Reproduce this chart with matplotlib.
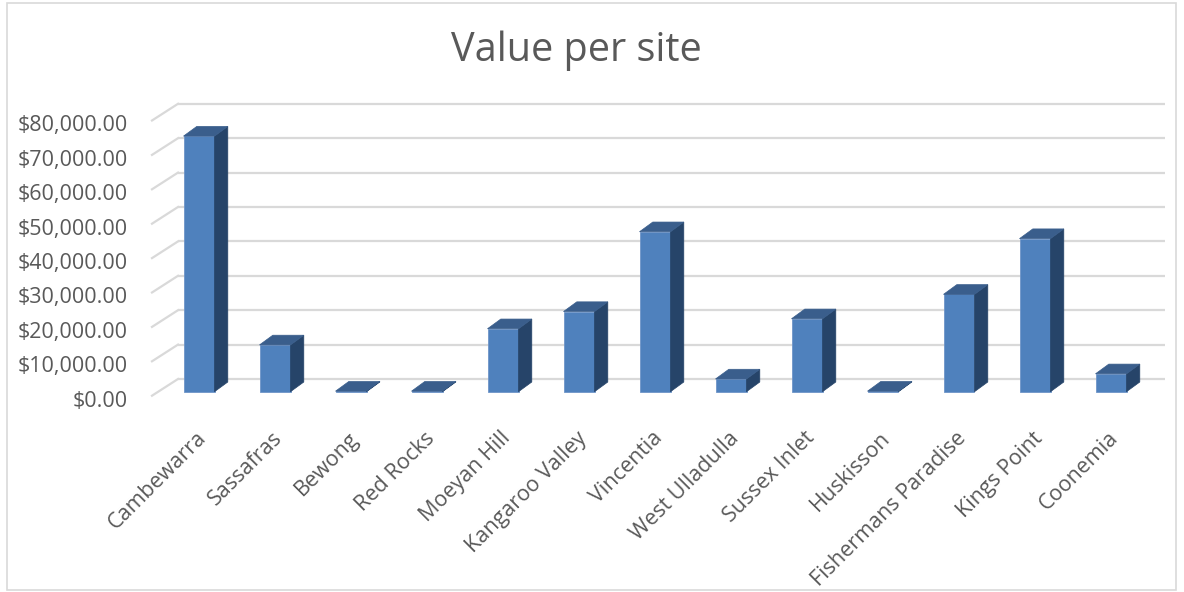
import matplotlib.pyplot as plt
from matplotlib.patches import Polygon, Rectangle
from matplotlib.transforms import ScaledTranslation

# data
sites = ['Cambewarra', 'Sassafras', 'Bewong', 'Red Rocks', 'Moeyan Hill',
         'Kangaroo Valley', 'Vincentia', 'West Ulladulla', 'Sussex Inlet',
         'Huskisson', 'Fishermans Paradise', 'Kings Point', 'Coonemia']
values = [74300, 13600, 150, 150, 18300, 23300, 46500, 3700, 21200, 150,
          28300, 44500, 5200]
tick_values = [0, 10000, 20000, 30000, 40000, 50000, 60000, 70000, 80000]
title = 'Value per site'

# pixel layout of the fake 3D box (figure is 1184x592 at dpi 100)
W, H, DPI = 1184, 592, 100
x0_px, step_px = 199.0, 76.0        # centre of first bar, spacing between bars
y0_px, unit_px = 391.7, 34.4 / 10000  # bar base, pixels per dollar

def px_x(p):
    return (p - x0_px) / step_px

def px_dy(p):
    return p / unit_px

FRONT = '#4f81bd'
TOP = '#3a5e8c'
SIDE = '#264469'
GRID = '#d9d9d9'
TEXT = '#595959'

plt.rcParams['font.family'] = ['Open Sans', 'DejaVu Sans']

fig = plt.figure(figsize=(W / DPI, H / DPI), dpi=DPI)
ax = fig.add_axes([0, 0, 1, 1])
ax.set_xlim(px_x(0), px_x(W))
ax.set_ylim(px_dy(y0_px - H), px_dy(y0_px))
ax.axis('off')

bar_w = 31 / step_px
depth_dx, depth_dy = 13.3 / step_px, px_dy(9.7)
wall_dy = px_dy(12.7)
wall_left, wall_right = px_x(178), px_x(1165)
front_left, front_dy = px_x(152), px_dy(-4)

# back wall gridlines plus the slanted lines on the left
for v in tick_values:
    ax.plot([wall_left, wall_right], [v + wall_dy, v + wall_dy],
            color=GRID, lw=1.6, zorder=1, solid_capstyle='butt')
    ax.plot([front_left, wall_left], [v + front_dy, v + wall_dy],
            color=GRID, lw=1.6, zorder=1)

# y labels at the front edge
lab_off = ScaledTranslation(-24 / DPI, -5.5 / DPI, fig.dpi_scale_trans)
for v in tick_values:
    ax.text(front_left, v + front_dy, f'${v:,.2f}', ha='right', va='center',
            fontsize=15.5, color=TEXT, transform=ax.transData + lab_off)

# bars: front face with ax.bar, top and side faces as polygons
xs = list(range(len(sites)))
ax.bar(xs, values, width=bar_w, color=FRONT, edgecolor='#6f95c8',
       linewidth=0.6, zorder=3)
for x, v in zip(xs, values):
    l, r = x - bar_w / 2, x + bar_w / 2
    top = Polygon([(l, v), (r, v), (r + depth_dx, v + depth_dy),
                   (l + depth_dx, v + depth_dy)], closed=True,
                  facecolor=TOP, edgecolor=TOP, lw=0.5, zorder=3)
    side = Polygon([(r, 0), (r + depth_dx, depth_dy),
                    (r + depth_dx, v + depth_dy), (r, v)], closed=True,
                   facecolor=SIDE, edgecolor=SIDE, lw=0.5, zorder=3)
    ax.add_patch(side)
    ax.add_patch(top)

# category labels, rotated
cat_off = ScaledTranslation(-3 / DPI, -36 / DPI, fig.dpi_scale_trans)
for x, name in zip(xs, sites):
    ax.text(x, 0, name, rotation=45, rotation_mode='anchor', ha='right',
            va='top', fontsize=15.5, color=TEXT,
            transform=ax.transData + cat_off)

fig.text(576 / W, 1 - 51 / H, title, ha='center', va='center',
         fontsize=28.5, color=TEXT)

fig.patches.append(Rectangle((7 / W, 2 / H), 1 - 15 / W, 1 - 5 / H,
                             transform=fig.transFigure, fill=False,
                             edgecolor=GRID, lw=1.2))

fig.savefig('out.png', dpi=DPI)
